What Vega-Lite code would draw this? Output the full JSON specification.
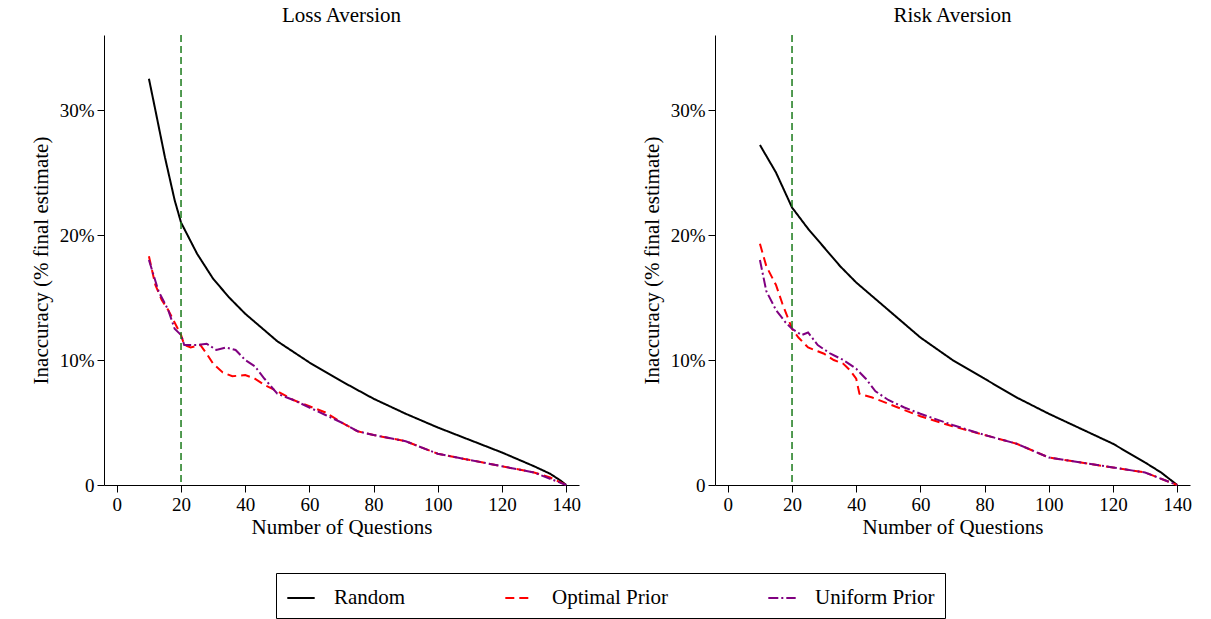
{
  "$schema": "https://vega.github.io/schema/vega-lite/v6.json",
  "background": "white",
  "padding": {"left": 30, "top": 5, "right": 20, "bottom": 0},
  "config": {
    "font": "Liberation Serif",
    "view": {"stroke": null},
    "axis": {"grid": false, "labelFont": "Liberation Serif", "titleFont": "Liberation Serif", "labelFontSize": 19, "titleFontSize": 21, "titleFontWeight": "normal", "labelColor": "black", "titleColor": "black", "domainColor": "black", "tickColor": "black", "tickSize": 7, "labelPadding": 3},
    "title": {"font": "Liberation Serif", "fontSize": 21, "fontWeight": "normal", "offset": 8},
    "legend": {"labelFont": "Liberation Serif", "labelFontSize": 21, "labelColor": "black", "layout": {"bottom": {"anchor": "middle"}}}
  },
  "resolve": {"legend": {"color": "shared", "strokeDash": "shared"}, "scale": {"color": "shared", "strokeDash": "shared"}},
  "datasets": {
    "curves": [
      {"panel": "L", "series": "Random", "q": 10, "v": 0.325}, {"panel": "L", "series": "Random", "q": 12, "v": 0.3}, {"panel": "L", "series": "Random", "q": 15, "v": 0.262}, {"panel": "L", "series": "Random", "q": 18, "v": 0.228}, {"panel": "L", "series": "Random", "q": 20, "v": 0.21}, {"panel": "L", "series": "Random", "q": 25, "v": 0.185}, {"panel": "L", "series": "Random", "q": 30, "v": 0.165}, {"panel": "L", "series": "Random", "q": 35, "v": 0.15}, {"panel": "L", "series": "Random", "q": 40, "v": 0.137}, {"panel": "L", "series": "Random", "q": 50, "v": 0.115}, {"panel": "L", "series": "Random", "q": 60, "v": 0.098}, {"panel": "L", "series": "Random", "q": 70, "v": 0.083}, {"panel": "L", "series": "Random", "q": 80, "v": 0.069}, {"panel": "L", "series": "Random", "q": 90, "v": 0.057}, {"panel": "L", "series": "Random", "q": 100, "v": 0.046}, {"panel": "L", "series": "Random", "q": 110, "v": 0.036}, {"panel": "L", "series": "Random", "q": 120, "v": 0.026}, {"panel": "L", "series": "Random", "q": 130, "v": 0.015}, {"panel": "L", "series": "Random", "q": 135, "v": 0.009}, {"panel": "L", "series": "Random", "q": 138, "v": 0.004}, {"panel": "L", "series": "Random", "q": 140, "v": 0},
      {"panel": "L", "series": "Optimal Prior", "q": 10, "v": 0.183}, {"panel": "L", "series": "Optimal Prior", "q": 12, "v": 0.16}, {"panel": "L", "series": "Optimal Prior", "q": 14, "v": 0.148}, {"panel": "L", "series": "Optimal Prior", "q": 16, "v": 0.14}, {"panel": "L", "series": "Optimal Prior", "q": 18, "v": 0.13}, {"panel": "L", "series": "Optimal Prior", "q": 20, "v": 0.12}, {"panel": "L", "series": "Optimal Prior", "q": 21, "v": 0.112}, {"panel": "L", "series": "Optimal Prior", "q": 23, "v": 0.11}, {"panel": "L", "series": "Optimal Prior", "q": 26, "v": 0.112}, {"panel": "L", "series": "Optimal Prior", "q": 28, "v": 0.105}, {"panel": "L", "series": "Optimal Prior", "q": 30, "v": 0.097}, {"panel": "L", "series": "Optimal Prior", "q": 33, "v": 0.09}, {"panel": "L", "series": "Optimal Prior", "q": 36, "v": 0.087}, {"panel": "L", "series": "Optimal Prior", "q": 40, "v": 0.088}, {"panel": "L", "series": "Optimal Prior", "q": 43, "v": 0.085}, {"panel": "L", "series": "Optimal Prior", "q": 46, "v": 0.08}, {"panel": "L", "series": "Optimal Prior", "q": 50, "v": 0.075}, {"panel": "L", "series": "Optimal Prior", "q": 55, "v": 0.068}, {"panel": "L", "series": "Optimal Prior", "q": 60, "v": 0.063}, {"panel": "L", "series": "Optimal Prior", "q": 65, "v": 0.058}, {"panel": "L", "series": "Optimal Prior", "q": 70, "v": 0.05}, {"panel": "L", "series": "Optimal Prior", "q": 75, "v": 0.043}, {"panel": "L", "series": "Optimal Prior", "q": 80, "v": 0.04}, {"panel": "L", "series": "Optimal Prior", "q": 90, "v": 0.035}, {"panel": "L", "series": "Optimal Prior", "q": 100, "v": 0.025}, {"panel": "L", "series": "Optimal Prior", "q": 110, "v": 0.02}, {"panel": "L", "series": "Optimal Prior", "q": 120, "v": 0.015}, {"panel": "L", "series": "Optimal Prior", "q": 130, "v": 0.01}, {"panel": "L", "series": "Optimal Prior", "q": 135, "v": 0.006}, {"panel": "L", "series": "Optimal Prior", "q": 140, "v": 0},
      {"panel": "L", "series": "Uniform Prior", "q": 10, "v": 0.18}, {"panel": "L", "series": "Uniform Prior", "q": 13, "v": 0.155}, {"panel": "L", "series": "Uniform Prior", "q": 16, "v": 0.14}, {"panel": "L", "series": "Uniform Prior", "q": 18, "v": 0.125}, {"panel": "L", "series": "Uniform Prior", "q": 20, "v": 0.12}, {"panel": "L", "series": "Uniform Prior", "q": 21, "v": 0.112}, {"panel": "L", "series": "Uniform Prior", "q": 25, "v": 0.112}, {"panel": "L", "series": "Uniform Prior", "q": 28, "v": 0.113}, {"panel": "L", "series": "Uniform Prior", "q": 31, "v": 0.108}, {"panel": "L", "series": "Uniform Prior", "q": 34, "v": 0.11}, {"panel": "L", "series": "Uniform Prior", "q": 37, "v": 0.108}, {"panel": "L", "series": "Uniform Prior", "q": 40, "v": 0.1}, {"panel": "L", "series": "Uniform Prior", "q": 43, "v": 0.095}, {"panel": "L", "series": "Uniform Prior", "q": 46, "v": 0.085}, {"panel": "L", "series": "Uniform Prior", "q": 50, "v": 0.073}, {"panel": "L", "series": "Uniform Prior", "q": 55, "v": 0.068}, {"panel": "L", "series": "Uniform Prior", "q": 60, "v": 0.062}, {"panel": "L", "series": "Uniform Prior", "q": 65, "v": 0.056}, {"panel": "L", "series": "Uniform Prior", "q": 70, "v": 0.05}, {"panel": "L", "series": "Uniform Prior", "q": 75, "v": 0.043}, {"panel": "L", "series": "Uniform Prior", "q": 80, "v": 0.04}, {"panel": "L", "series": "Uniform Prior", "q": 90, "v": 0.035}, {"panel": "L", "series": "Uniform Prior", "q": 100, "v": 0.025}, {"panel": "L", "series": "Uniform Prior", "q": 110, "v": 0.02}, {"panel": "L", "series": "Uniform Prior", "q": 120, "v": 0.015}, {"panel": "L", "series": "Uniform Prior", "q": 130, "v": 0.01}, {"panel": "L", "series": "Uniform Prior", "q": 140, "v": 0},
      {"panel": "R", "series": "Random", "q": 10, "v": 0.272}, {"panel": "R", "series": "Random", "q": 15, "v": 0.25}, {"panel": "R", "series": "Random", "q": 20, "v": 0.222}, {"panel": "R", "series": "Random", "q": 25, "v": 0.205}, {"panel": "R", "series": "Random", "q": 30, "v": 0.19}, {"panel": "R", "series": "Random", "q": 35, "v": 0.175}, {"panel": "R", "series": "Random", "q": 40, "v": 0.162}, {"panel": "R", "series": "Random", "q": 50, "v": 0.14}, {"panel": "R", "series": "Random", "q": 60, "v": 0.118}, {"panel": "R", "series": "Random", "q": 70, "v": 0.1}, {"panel": "R", "series": "Random", "q": 80, "v": 0.085}, {"panel": "R", "series": "Random", "q": 90, "v": 0.07}, {"panel": "R", "series": "Random", "q": 100, "v": 0.057}, {"panel": "R", "series": "Random", "q": 110, "v": 0.045}, {"panel": "R", "series": "Random", "q": 120, "v": 0.033}, {"panel": "R", "series": "Random", "q": 130, "v": 0.018}, {"panel": "R", "series": "Random", "q": 135, "v": 0.01}, {"panel": "R", "series": "Random", "q": 140, "v": 0},
      {"panel": "R", "series": "Optimal Prior", "q": 10, "v": 0.193}, {"panel": "R", "series": "Optimal Prior", "q": 12, "v": 0.175}, {"panel": "R", "series": "Optimal Prior", "q": 15, "v": 0.16}, {"panel": "R", "series": "Optimal Prior", "q": 17, "v": 0.145}, {"panel": "R", "series": "Optimal Prior", "q": 20, "v": 0.125}, {"panel": "R", "series": "Optimal Prior", "q": 22, "v": 0.118}, {"panel": "R", "series": "Optimal Prior", "q": 25, "v": 0.11}, {"panel": "R", "series": "Optimal Prior", "q": 28, "v": 0.107}, {"panel": "R", "series": "Optimal Prior", "q": 30, "v": 0.105}, {"panel": "R", "series": "Optimal Prior", "q": 33, "v": 0.1}, {"panel": "R", "series": "Optimal Prior", "q": 36, "v": 0.097}, {"panel": "R", "series": "Optimal Prior", "q": 38, "v": 0.092}, {"panel": "R", "series": "Optimal Prior", "q": 40, "v": 0.085}, {"panel": "R", "series": "Optimal Prior", "q": 41, "v": 0.073}, {"panel": "R", "series": "Optimal Prior", "q": 45, "v": 0.07}, {"panel": "R", "series": "Optimal Prior", "q": 50, "v": 0.065}, {"panel": "R", "series": "Optimal Prior", "q": 55, "v": 0.06}, {"panel": "R", "series": "Optimal Prior", "q": 60, "v": 0.055}, {"panel": "R", "series": "Optimal Prior", "q": 70, "v": 0.047}, {"panel": "R", "series": "Optimal Prior", "q": 80, "v": 0.04}, {"panel": "R", "series": "Optimal Prior", "q": 90, "v": 0.033}, {"panel": "R", "series": "Optimal Prior", "q": 100, "v": 0.022}, {"panel": "R", "series": "Optimal Prior", "q": 110, "v": 0.018}, {"panel": "R", "series": "Optimal Prior", "q": 120, "v": 0.014}, {"panel": "R", "series": "Optimal Prior", "q": 130, "v": 0.01}, {"panel": "R", "series": "Optimal Prior", "q": 140, "v": 0},
      {"panel": "R", "series": "Uniform Prior", "q": 10, "v": 0.18}, {"panel": "R", "series": "Uniform Prior", "q": 12, "v": 0.155}, {"panel": "R", "series": "Uniform Prior", "q": 15, "v": 0.14}, {"panel": "R", "series": "Uniform Prior", "q": 18, "v": 0.13}, {"panel": "R", "series": "Uniform Prior", "q": 20, "v": 0.125}, {"panel": "R", "series": "Uniform Prior", "q": 23, "v": 0.12}, {"panel": "R", "series": "Uniform Prior", "q": 25, "v": 0.122}, {"panel": "R", "series": "Uniform Prior", "q": 28, "v": 0.112}, {"panel": "R", "series": "Uniform Prior", "q": 32, "v": 0.105}, {"panel": "R", "series": "Uniform Prior", "q": 36, "v": 0.1}, {"panel": "R", "series": "Uniform Prior", "q": 40, "v": 0.093}, {"panel": "R", "series": "Uniform Prior", "q": 43, "v": 0.085}, {"panel": "R", "series": "Uniform Prior", "q": 46, "v": 0.075}, {"panel": "R", "series": "Uniform Prior", "q": 50, "v": 0.068}, {"panel": "R", "series": "Uniform Prior", "q": 55, "v": 0.062}, {"panel": "R", "series": "Uniform Prior", "q": 60, "v": 0.057}, {"panel": "R", "series": "Uniform Prior", "q": 70, "v": 0.048}, {"panel": "R", "series": "Uniform Prior", "q": 80, "v": 0.04}, {"panel": "R", "series": "Uniform Prior", "q": 90, "v": 0.033}, {"panel": "R", "series": "Uniform Prior", "q": 100, "v": 0.022}, {"panel": "R", "series": "Uniform Prior", "q": 110, "v": 0.018}, {"panel": "R", "series": "Uniform Prior", "q": 120, "v": 0.014}, {"panel": "R", "series": "Uniform Prior", "q": 130, "v": 0.01}, {"panel": "R", "series": "Uniform Prior", "q": 140, "v": 0}
    ],
    "cutoff": [{"q": 20}]
  },
  "hconcat": [
    {
      "title": "Loss Aversion",
      "width": 475, "height": 450,
      "layer": [
        {
          "data": {"name": "curves"},
          "transform": [{"filter": "datum.panel === 'L'"}],
          "mark": {"type": "line", "strokeWidth": 2},
          "encoding": {
            "x": {"field": "q", "type": "quantitative", "title": "Number of Questions", "scale": {"domain": [-4, 144], "nice": false}, "axis": {"values": [0, 20, 40, 60, 80, 100, 120, 140], "titlePadding": 2}},
            "y": {"field": "v", "type": "quantitative", "title": "Inaccuracy (% final estimate)", "scale": {"domain": [0, 0.36], "nice": false}, "axis": {"values": [0, 0.1, 0.2, 0.3], "format": ".0%", "labelExpr": "datum.value == 0 ? '0' : datum.label", "titlePadding": 8}},
            "color": {"field": "series", "type": "nominal", "scale": {"domain": ["Random", "Optimal Prior", "Uniform Prior"], "range": ["black", "#ff0000", "#800080"]}, "legend": {"orient": "bottom", "direction": "horizontal", "title": null, "strokeColor": "black", "padding": 10, "offset": 36, "symbolType": "stroke", "symbolSize": 750, "symbolStrokeWidth": 2, "columnPadding": 95, "labelOffset": 18}},
            "strokeDash": {"field": "series", "type": "nominal", "scale": {"domain": ["Random", "Optimal Prior", "Uniform Prior"], "range": [[1, 0], [9, 5], [10, 3, 2, 3]]}, "legend": {"orient": "bottom", "direction": "horizontal", "title": null, "strokeColor": "black", "padding": 10, "offset": 36, "symbolType": "stroke", "symbolSize": 750, "symbolStrokeWidth": 2, "columnPadding": 95, "labelOffset": 18}}
          }
        },
        {
          "data": {"name": "cutoff"},
          "mark": {"type": "rule", "color": "#1a7a1a", "strokeDash": [7, 4], "strokeWidth": 1.5},
          "encoding": {"x": {"field": "q", "type": "quantitative"}}
        }
      ]
    },
    {
      "title": "Risk Aversion",
      "width": 475, "height": 450,
      "layer": [
        {
          "data": {"name": "curves"},
          "transform": [{"filter": "datum.panel === 'R'"}],
          "mark": {"type": "line", "strokeWidth": 2},
          "encoding": {
            "x": {"field": "q", "type": "quantitative", "title": "Number of Questions", "scale": {"domain": [-4, 144], "nice": false}, "axis": {"values": [0, 20, 40, 60, 80, 100, 120, 140], "titlePadding": 2}},
            "y": {"field": "v", "type": "quantitative", "title": "Inaccuracy (% final estimate)", "scale": {"domain": [0, 0.36], "nice": false}, "axis": {"values": [0, 0.1, 0.2, 0.3], "format": ".0%", "labelExpr": "datum.value == 0 ? '0' : datum.label", "titlePadding": 8}},
            "color": {"field": "series", "type": "nominal"},
            "strokeDash": {"field": "series", "type": "nominal"}
          }
        },
        {
          "data": {"name": "cutoff"},
          "mark": {"type": "rule", "color": "#1a7a1a", "strokeDash": [7, 4], "strokeWidth": 1.5},
          "encoding": {"x": {"field": "q", "type": "quantitative"}}
        }
      ]
    }
  ],
  "spacing": 60
}
